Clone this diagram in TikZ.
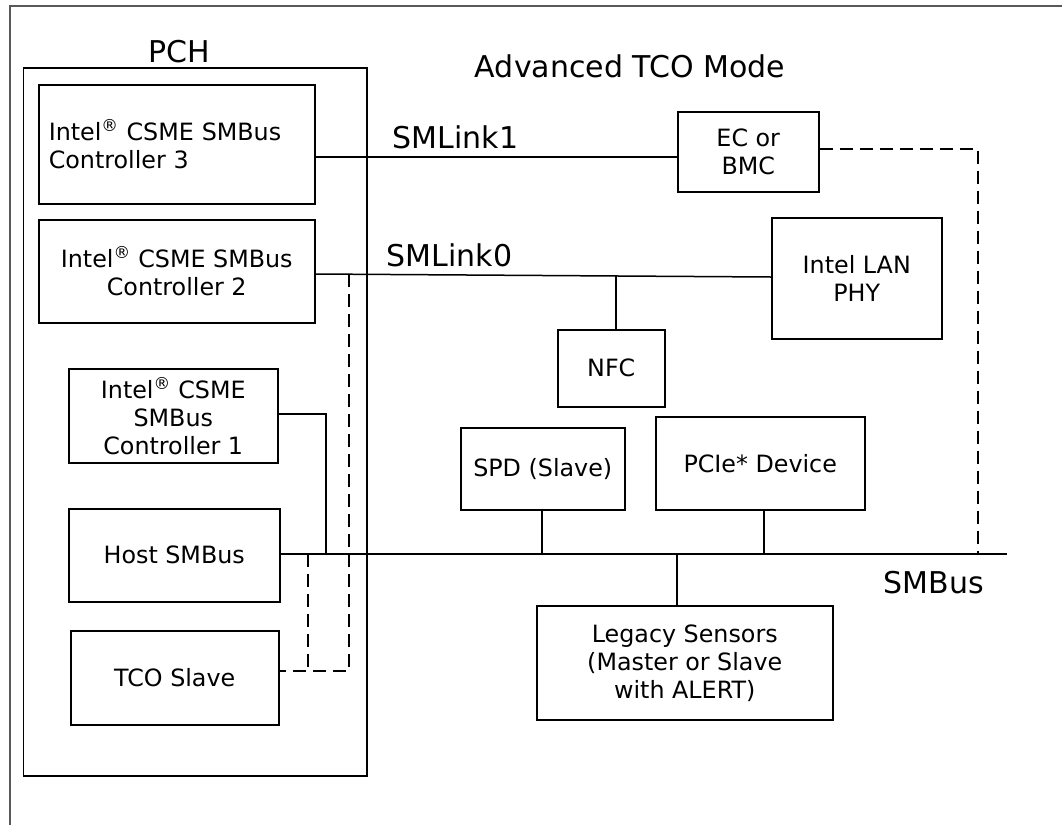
\documentclass[tikz,border=0pt]{standalone}
\usepackage{fontspec}
\setmainfont{DejaVu Sans}
\newcommand{\reg}{\textsuperscript{®}}
\begin{document}
\begin{tikzpicture}[x=1pt,y=-1pt,line width=1.5pt,
  box/.style={draw,line width=1.5pt,inner sep=0pt,anchor=north west,align=center,
    font=\fontsize{23.8}{28}\selectfont},
  big/.style={font=\fontsize{30}{36}\selectfont,inner sep=0pt},
  dsh/.style={dash pattern=on 13pt off 7pt}]
\useasboundingbox (0,0) rectangle (1062,825);
% outer frame
\draw[line width=2pt,black!65] (10,825) -- (10,5.5) -- (1062,5.5);
% PCH
\node[draw,line width=1.5pt,anchor=north west,minimum width=343.5pt,minimum height=708pt,inner sep=0pt] (pch) at (22.5,67) {};
\node[big,anchor=base] (pchl) at (179,62) {PCH};
\node[big,anchor=base] (title) at (630,77) {Advanced TCO Mode};
% boxes
\node[box,text width=256pt,inner xsep=10pt,align=left,minimum height=119pt] (c3) at (38,84) {Intel\reg{} CSME SMBus\\Controller 3};
\node[box,minimum width=276pt,minimum height=103pt] (c2) at (38,219) {Intel\reg{} CSME SMBus\\Controller 2};
\node[box,minimum width=209pt,minimum height=94pt] (c1) at (68,368) {Intel\reg{} CSME\\SMBus\\Controller 1};
\node[box,minimum width=211pt,minimum height=93pt] (host) at (68,508) {Host SMBus};
\node[box,minimum width=208pt,minimum height=94pt] (tco) at (70,630) {TCO Slave};
\node[box,minimum width=141pt,minimum height=80pt] (ec) at (677,111) {EC or\\BMC};
\node[box,minimum width=170pt,minimum height=121pt] (lan) at (771,217) {Intel LAN\\PHY};
\node[box,minimum width=107pt,minimum height=77pt] (nfc) at (557,329) {NFC};
\node[box,minimum width=164pt,minimum height=82pt] (spd) at (460,427) {SPD (Slave)};
\node[box,minimum width=209pt,minimum height=93pt] (pcie) at (655,416) {PCIe* Device};
\node[box,minimum width=296pt,minimum height=114pt] (leg) at (536,605) {Legacy Sensors\\(Master or Slave\\with ALERT)};
% labels
\node[big,anchor=base west] (sml1) at (392,148) {SMLink1};
\node[big,anchor=base west] (sml0) at (386,266) {SMLink0};
\node[big,anchor=base west] (smb) at (883,593) {SMBus};
% coordinates
\coordinate (busend) at (1007,554);
\coordinate (n0) at (616,275.8);
\coordinate (ecd) at (978,149);
\coordinate (c1b) at (326,414);
\coordinate (d1) at (349,274.2);
\coordinate (d2) at (308,554);
% SMLink1
\draw (c3.east |- 0,157) -- (ec.west |- 0,157);
% SMLink0
\draw (c2.east |- 0,274) -- (lan.west |- 0,277);
\draw (n0) -- (nfc.north -| n0);
% SMBus
\draw (host.east |- busend) -- (busend);
\draw (c1.east |- c1b) -- (c1b) -- (c1b |- busend);
\draw (spd.south -| 542,0) -- (542,554);
\draw (pcie.south -| 764,0) -- (764,554);
\draw (leg.north -| 677,0) -- (677,554);
% dashed
\draw[dsh] (ec.east |- ecd) -- (ecd) -- (ecd |- busend);
\draw[dsh] (d1) -- (349,671) -- (tco.east |- 0,671);
\draw[dsh] (d2) -- (308,671);
\end{tikzpicture}
\end{document}
